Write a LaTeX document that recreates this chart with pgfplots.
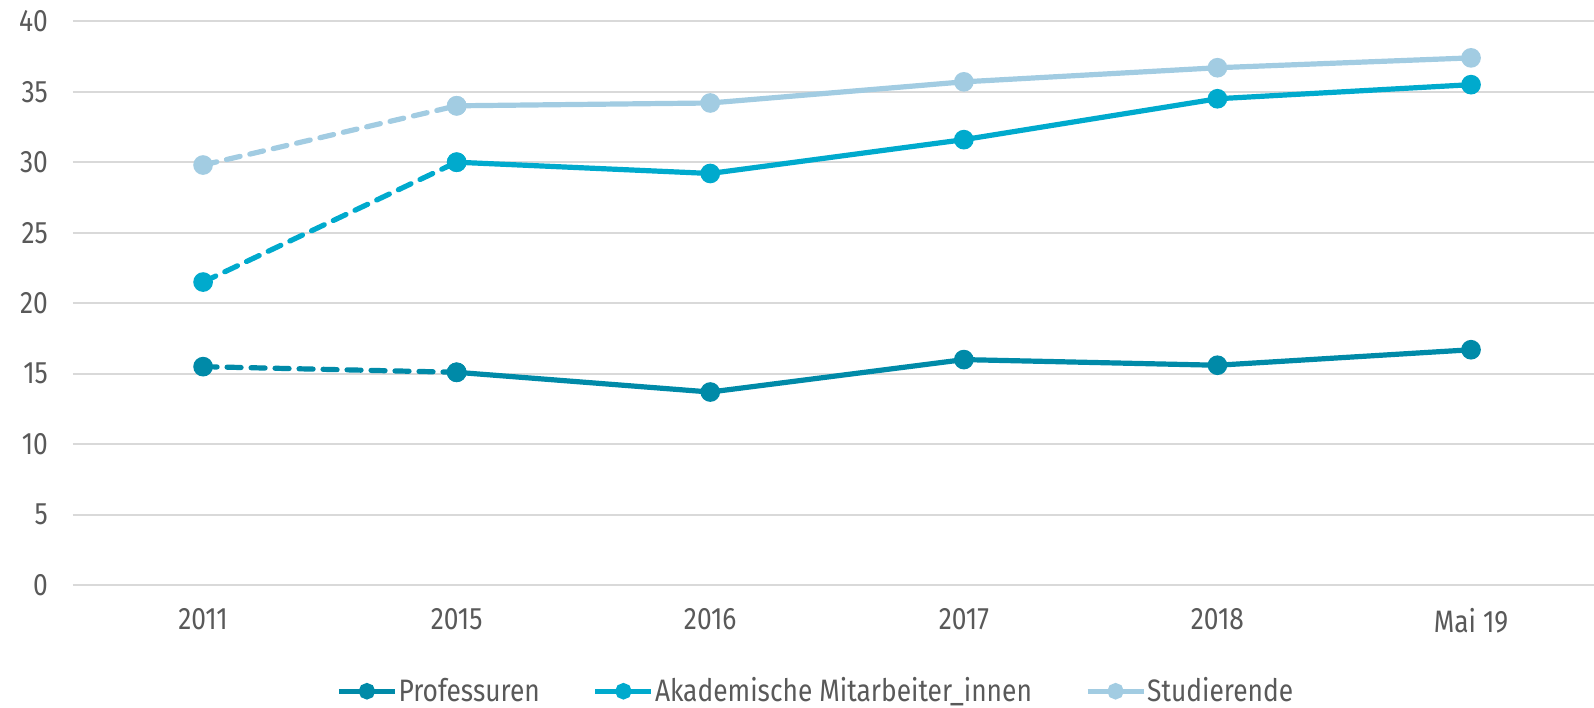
\documentclass[border=0pt]{standalone}
\usepackage{fontspec}
\setmainfont{Fira Sans}[FakeStretch=0.85]
\usepackage{pgfplots}
\pgfplotsset{compat=1.18}
\definecolor{prof}{RGB}{0,138,168}
\definecolor{akad}{RGB}{0,170,205}
\definecolor{stud}{RGB}{162,204,226}
\definecolor{gridc}{RGB}{217,217,217}
\definecolor{txt}{RGB}{89,89,89}
\begin{document}
\begin{tikzpicture}
\begin{axis}[
  scale only axis, width=760.5pt, height=282pt,
  xmin=-0.513, xmax=5.485, ymin=0, ymax=40,
  xtick={0,1,2,3,4,5},
  xticklabels={2011,2015,2016,2017,2018,Mai 19},
  ytick={0,5,...,40},
  ymajorgrids, grid style={gridc, line width=0.8pt},
  axis line style={draw=none}, major tick length=0pt,
  tick label style={font=\fontsize{15.5}{17}\selectfont, text=txt},
  /pgf/number format/assume math mode=true,
  yticklabel style={xshift=-9pt},
  xticklabel style={yshift=-8pt},
  every axis plot/.append style={line width=2.6pt, mark=*, mark size=3.6pt, mark options={solid}},
  legend columns=3,
  legend style={at={(0.488,-0.188)}, anchor=center, draw=none, fill=none,
    font=\fontsize{15.5}{17}\selectfont, text=txt,
    nodes={inner sep=0.5pt},
    /tikz/every even column/.append style={column sep=26pt}},
  legend image code/.code={\draw[mark repeat=2,mark phase=2,#1,mark size=2.8pt] plot coordinates {(0pt,0pt) (14pt,0pt) (28pt,0pt)};},
]
\addplot[prof, dash pattern=on 7pt off 5pt, line cap=round, forget plot] coordinates {(0,15.5) (1,15.1)};
\addplot[prof] coordinates {(1,15.1) (2,13.7) (3,16.0) (4,15.6) (5,16.7)};
\addlegendentry{Professuren}
\addplot[akad, dash pattern=on 7pt off 5pt, line cap=round, forget plot] coordinates {(0,21.5) (1,30.0)};
\addplot[akad] coordinates {(1,30.0) (2,29.2) (3,31.6) (4,34.5) (5,35.5)};
\addlegendentry{Akademische Mitarbeiter\_innen}
\addplot[stud, dash pattern=on 7pt off 5pt, line cap=round, forget plot] coordinates {(0,29.8) (1,34.0)};
\addplot[stud] coordinates {(1,34.0) (2,34.2) (3,35.7) (4,36.7) (5,37.4)};
\addlegendentry{Studierende}
\end{axis}
\pgfresetboundingbox
\path (-36.5pt,-61pt) rectangle (760.5pt,292.6pt);
\end{tikzpicture}
\end{document}
